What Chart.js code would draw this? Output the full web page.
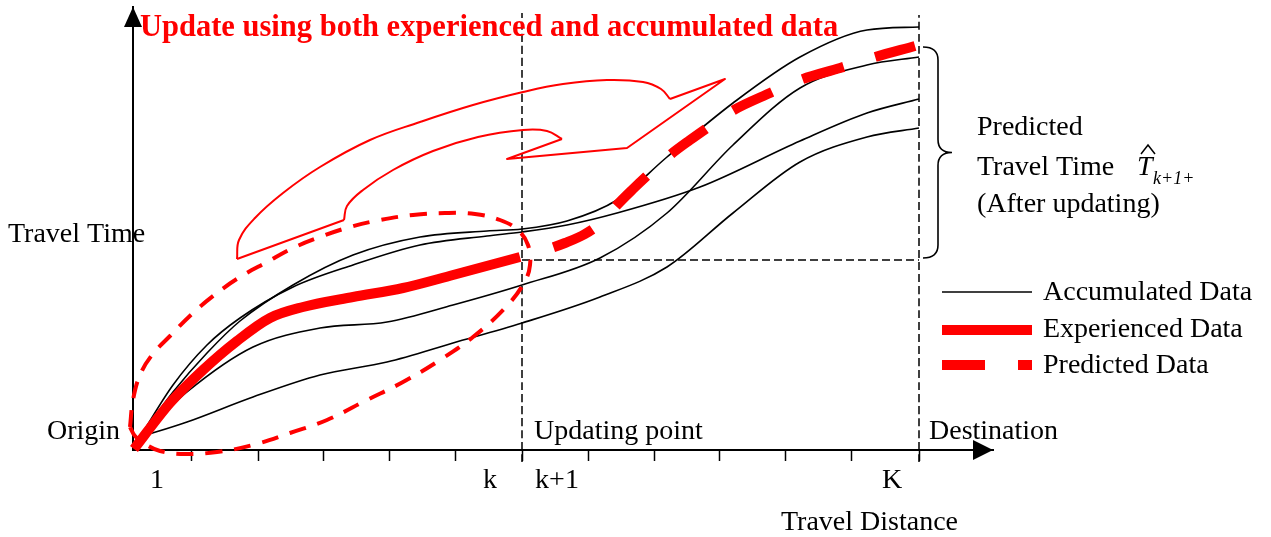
<!DOCTYPE html>
<html lang="en">
<head>
<meta charset="UTF-8">
<title>Travel time updating</title>
<script src="https://cdn.jsdelivr.net/npm/chart.js@4.4.0/dist/chart.umd.min.js"></script>
<style>
    body { margin: 0; background: #fff; }
    #wrap { width: 1271px; height: 537px; position: relative; }
</style>
</head>
<body>
<div id="wrap"><canvas id="chartCanvas"></canvas></div>
<script>
// x = travel distance, y = travel time (arbitrary units)
const segmentEdges = [58, 125, 190, 256, 322, 389, 455, 521, 586, 652, 718, 786];
const tickLabelAt = [24, 357, 424, 759];
const tickLabels = ['1', 'k', 'k+1', 'K'];
const updatingX = 389;
const destinationX = 786;
const updatedLevel = 190;

// accumulated data (4 past trips)
const accumulated1 = [[7,13],[40,58],[74,97],[107,129],[160,165],[220,195],[287,213],[354,219],[389,221],[434,229],[484,250],[534,293],[600,347],[667,393],[734,420],[786,423]];
const accumulated2 = [[7,13],[40,65],[74,105],[107,132],[160,163],[220,185],[287,205],[354,214],[389,218],[434,225],[484,237],[567,263],[667,309],[734,337],[786,351]];
const accumulated3 = [[7,13],[54,58],[120,103],[187,122],[254,128],[320,145],[389,165],[467,192],[534,237],[600,305],[667,362],[734,385],[786,393]];
const accumulated4 = [[7,13],[54,28],[120,53],[187,75],[254,88],[320,107],[389,127],[467,153],[534,183],[600,237],[667,288],[734,313],[786,322]];

// experienced (up to k) and predicted (k+1 .. K)
const experienced = [[1,1],[37,47],[70,80],[104,109],[137,132],[170,143],[220,153],[270,162],[320,175],[387,193]];
const predicted = [[389,193],[412,200],[432,207],[452,216],[470,229],[484,245],[500,261],[517,277],[537,295],[557,310],[574,322],[599,339],[637,357],[667,370],[707,382],[739,392],[782,404]];

// dashed ellipse around the experienced part
const ellipsePts = [[-3,23],[0,50],[7,75],[19,95],[37,114],[60,137],[84,157],[107,173],[134,188],[160,202],[187,213],[217,223],[247,230],[280,235],[312,237],[342,236],[367,230],[385,220],[395,205],[397,185],[391,167],[372,142],[340,113],[307,90],[270,68],[234,50],[194,30],[157,17],[120,5],[84,-2],[52,-4],[27,-1],[12,6],[2,14],[-3,23]];

// curved "update" arrow outline
const arrowOuter = [[537,351],[528,361],[510,368],[474,370],[430,366],[390,358],[340,345],[287,328],[237,310],[187,283],[150,257],[122,232],[106,210],[104,191]];
const arrowInner = [[211,230],[214,244],[230,260],[260,280],[300,299],[345,313],[390,320],[414,319],[429,311]];
const arrowEdges = [[104,191],[211,230],null,[429,311],[374,291],[494,302],[592,371],[537,351]];

const RED = '#ff0000';
const SERIF = '"Liberation Serif", "Times New Roman", serif';

const pts = arr => arr.map(p => p ? { x: p[0], y: p[1] } : { x: null, y: null });

function lineSet(data, color, width, extra) {
    return Object.assign({
        data: pts(data), borderColor: color, borderWidth: width, pointRadius: 0,
        fill: false, cubicInterpolationMode: 'monotone', clip: false,
        borderCapStyle: 'butt', borderJoinStyle: 'round'
    }, extra || {});
}

const datasets = [
    lineSet([[updatingX,-12],[updatingX,437]], '#000', 1.5, { borderDash: [8,4], order: 6 }),
    lineSet([[destinationX,-12],[destinationX,435]], '#000', 1.5, { borderDash: [8,4], order: 6 }),
    lineSet([[updatingX,updatedLevel],[destinationX,updatedLevel]], '#000', 1.5, { borderDash: [8,4], order: 6 }),
    lineSet(accumulated1, '#000', 1.6, { order: 5 }),
    lineSet(accumulated2, '#000', 1.6, { order: 5 }),
    lineSet(accumulated3, '#000', 1.6, { order: 5 }),
    lineSet(accumulated4, '#000', 1.6, { order: 5 }),
    lineSet(arrowOuter, RED, 2, { cubicInterpolationMode: 'default', tension: 0.4, order: 4 }),
    lineSet(arrowInner, RED, 2, { cubicInterpolationMode: 'default', tension: 0.4, order: 4 }),
    lineSet(arrowEdges, RED, 2, { cubicInterpolationMode: 'default', tension: 0, spanGaps: false, order: 4 }),
    lineSet(ellipsePts, RED, 4, { cubicInterpolationMode: 'default', tension: 0.4, borderDash: [17,12], order: 3 }),
    lineSet(experienced, RED, 10, { order: 2 }),
    lineSet(predicted, RED, 10, { borderDash: [43,33], borderDashOffset: 43, order: 1 })
];

// texts, arrow heads, brace and legend
const decorations = {
    id: 'decorations',
    afterDatasetsDraw(chart) {
        const ctx = chart.ctx, a = chart.chartArea;
        const xs = chart.scales.x, ys = chart.scales.y;
        ctx.save();
        ctx.fillStyle = '#000';
        // axis arrow heads
        ctx.beginPath();
        ctx.moveTo(a.right, a.bottom); ctx.lineTo(a.right - 20, a.bottom - 10); ctx.lineTo(a.right - 20, a.bottom + 10);
        ctx.closePath(); ctx.fill();
        ctx.beginPath();
        ctx.moveTo(a.left, a.top); ctx.lineTo(a.left - 9, a.top + 20); ctx.lineTo(a.left + 9, a.top + 20);
        ctx.closePath(); ctx.fill();

        ctx.textBaseline = 'alphabetic';
        ctx.textAlign = 'left';
        ctx.fillStyle = RED;
        ctx.font = 'bold 30.5px ' + SERIF;
        ctx.fillText('Update using both experienced and accumulated data', 140, 36);

        ctx.fillStyle = '#000';
        ctx.font = '28px ' + SERIF;
        ctx.fillText('Travel Time', 8, 242);
        ctx.fillText('Origin', 47, 439);
        ctx.fillText('Updating point', xs.getPixelForValue(updatingX) + 12, 439);
        ctx.fillText('Destination', xs.getPixelForValue(destinationX) + 10, 439);
        ctx.fillText('Travel Distance', 781, 530);
        ctx.fillText('Predicted', 977, 135);
        ctx.fillText('Travel Time', 977, 175);
        ctx.fillText('(After updating)', 977, 212);

        // T hat with subscript
        ctx.font = 'italic 28px ' + SERIF;
        ctx.fillText('T', 1137, 175);
        ctx.font = 'italic 18px ' + SERIF;
        ctx.fillText('k+1+', 1153, 184);
        ctx.lineWidth = 1.5;
        ctx.strokeStyle = '#000';
        ctx.beginPath();
        ctx.moveTo(1141, 154); ctx.lineTo(1148, 145); ctx.lineTo(1155, 154);
        ctx.stroke();

        // brace over the predicted range
        const bx = xs.getPixelForValue(destinationX) + 4;
        const top = ys.getPixelForValue(predicted[predicted.length - 1][1]) + 1;
        const bot = ys.getPixelForValue(updatedLevel) - 2;
        const mid = (top + bot) / 2;
        ctx.lineWidth = 1.6;
        ctx.beginPath();
        ctx.moveTo(bx, top);
        ctx.quadraticCurveTo(bx + 15, top, bx + 15, top + 13);
        ctx.lineTo(bx + 15, mid - 13);
        ctx.quadraticCurveTo(bx + 15, mid, bx + 29, mid);
        ctx.quadraticCurveTo(bx + 15, mid, bx + 15, mid + 13);
        ctx.lineTo(bx + 15, bot - 13);
        ctx.quadraticCurveTo(bx + 15, bot, bx, bot);
        ctx.stroke();

        // legend
        const lx0 = 942, lx1 = 1032;
        const rows = [
            { label: 'Accumulated Data', ds: datasets[3], y: 292, base: 300 },
            { label: 'Experienced Data', ds: datasets[11], y: 330, base: 337 },
            { label: 'Predicted Data', ds: datasets[12], y: 365, base: 373 }
        ];
        rows.forEach(r => {
            ctx.strokeStyle = r.ds.borderColor;
            ctx.lineWidth = r.ds.borderWidth;
            ctx.lineCap = 'butt';
            ctx.setLineDash(r.ds.borderDash || []);
            ctx.lineDashOffset = 0;
            ctx.beginPath();
            ctx.moveTo(lx0, r.y); ctx.lineTo(lx1, r.y);
            ctx.stroke();
            ctx.setLineDash([]);
            ctx.fillStyle = '#000';
            ctx.font = '28px ' + SERIF;
            ctx.fillText(r.label, 1043, r.base);
        });
        ctx.restore();
    }
};

new Chart(document.getElementById('chartCanvas'), {
    type: 'line',
    data: { datasets: datasets },
    options: {
        responsive: true,
        maintainAspectRatio: false,
        animation: false,
        events: [],
        layout: { padding: { top: 7, right: 278, bottom: 0, left: 0 } },
        plugins: { legend: { display: false }, tooltip: { enabled: false } },
        scales: {
            x: {
                type: 'linear', min: 0, max: 860,
                afterBuildTicks(scale) {
                    scale.ticks = [...segmentEdges, ...tickLabelAt].sort((p, q) => p - q).map(v => ({ value: v }));
                },
                afterFit(scale) { scale.height = 87; },
                ticks: {
                    autoSkip: false, maxRotation: 0, padding: 3, color: '#000',
                    font: { family: SERIF, size: 28 },
                    callback: v => { const i = tickLabelAt.indexOf(v); return i >= 0 ? tickLabels[i] : ''; }
                },
                grid: {
                    drawOnChartArea: false, tickLength: 11, tickWidth: 1.5,
                    tickColor: c => (c.tick && segmentEdges.includes(c.tick.value)) ? '#000' : 'rgba(0,0,0,0)'
                },
                border: { color: '#000', width: 2 }
            },
            y: {
                type: 'linear', min: 0, max: 443,
                afterFit(scale) { scale.width = 133; },
                ticks: { display: false },
                grid: { drawOnChartArea: false, drawTicks: false },
                border: { color: '#000', width: 2 }
            }
        }
    },
    plugins: [decorations]
});
</script>
</body>
</html>
